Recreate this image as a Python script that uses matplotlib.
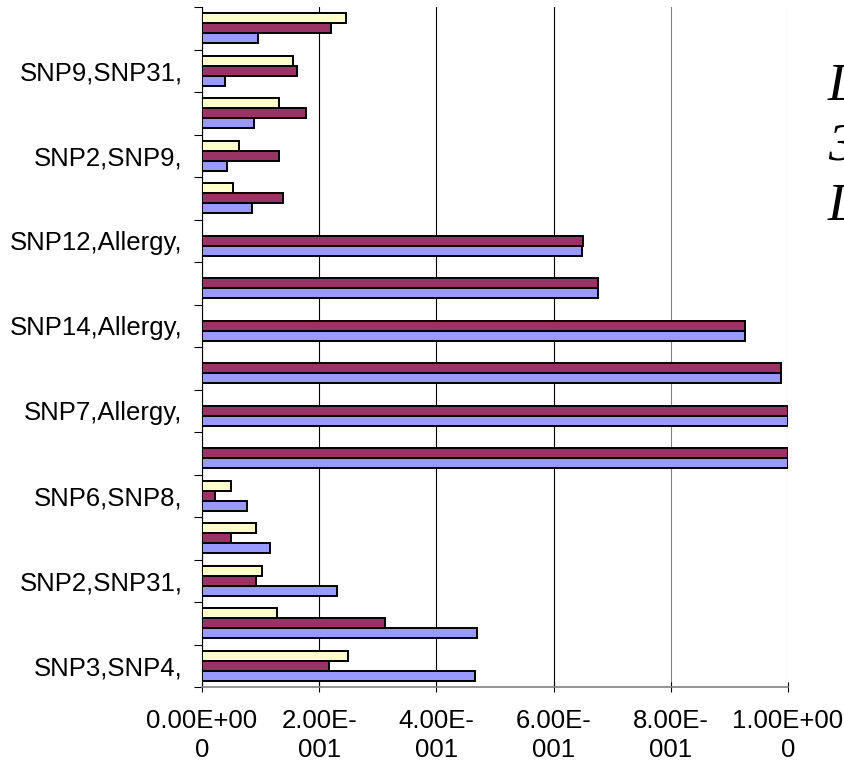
import matplotlib
matplotlib.use("Agg")
import matplotlib.pyplot as plt
import numpy as np

# Category labels from bottom to top; Excel skipped every other one
labels = ["SNP3,SNP4,", "", "SNP2,SNP31,", "", "SNP6,SNP8,", "",
          "SNP7,Allergy,", "", "SNP14,Allergy,", "", "SNP12,Allergy,", "",
          "SNP2,SNP9,", "", "SNP9,SNP31,", ""]

blue_vals = [0.466, 0.469, 0.230, 0.1155, 0.076, 1.0, 1.0, 0.988,
             0.926, 0.676, 0.649, 0.086, 0.043, 0.089, 0.040, 0.0956]
maroon_vals = [0.217, 0.312, 0.092, 0.0495, 0.023, 1.0, 1.0, 0.988,
               0.926, 0.676, 0.650, 0.138, 0.132, 0.177, 0.162, 0.220]
yellow_vals = [0.250, 0.128, 0.102, 0.093, 0.0495, np.nan, np.nan, np.nan,
               np.nan, np.nan, np.nan, 0.053, 0.063, 0.132, 0.155, 0.246]

xticks = [0.0, 0.2, 0.4, 0.6, 0.8, 1.0]
xtick_labels = ["0.00E+00\n0", "2.00E-\n001", "4.00E-\n001",
                "6.00E-\n001", "8.00E-\n001", "1.00E+00\n0"]

side_text = ["L", "3", "L"]

plt.rcParams['font.family'] = ['Liberation Sans', 'DejaVu Sans']

fig = plt.figure(figsize=(8.45, 7.64), dpi=100)
ax = fig.add_axes([202 / 845, 1 - 687 / 764, 586 / 845, 680 / 764])

y = np.arange(len(labels))
h = 0.235
bar_kw = dict(height=h, edgecolor='black', linewidth=1.4, zorder=3)
ax.barh(y - h, blue_vals, color='#9999FF', **bar_kw)
ax.barh(y, maroon_vals, color='#993366', **bar_kw)
ax.barh(y + h, yellow_vals, color='#FFFFCC', **bar_kw)

ax.set_xlim(0, 1.0)
ax.set_ylim(-0.5, len(labels) - 0.5)

# x axis: crossing ticks, two-line scientific labels
ax.set_xticks(xticks)
ax.set_xticklabels(xtick_labels, fontsize=18.5, linespacing=1.3)
ax.tick_params(axis='x', direction='inout', length=7, width=0.8,
               pad=12, color='black')

# y axis: tick marks on category boundaries, labels at centres
ax.set_yticks(np.arange(len(labels) + 1) - 0.5)
ax.set_yticklabels([])
ax.set_yticks(y, minor=True)
ax.set_yticklabels(labels, minor=True, fontsize=18.5)
ax.tick_params(axis='y', which='major', direction='out', length=5.5,
               width=0.8, color='black')
ax.tick_params(axis='y', which='minor', length=0, pad=14)

ax.grid(axis='x', color='black', linewidth=0.8, zorder=0)
ax.set_axisbelow(True)
grid = ax.xaxis.get_gridlines()
grid[-2].set_color('#808080')
grid[-1].set_color('#808080')

ax.spines['top'].set_visible(False)
ax.spines['right'].set_visible(False)
ax.spines['left'].set_color('black')
ax.spines['left'].set_linewidth(0.8)
ax.spines['bottom'].set_color('#808080')
ax.spines['bottom'].set_linewidth(1.2)

# legend text running off the right edge
for i, s in enumerate(side_text):
    fig.text(828 / 845, 1 - (100 + 60 * i) / 764, s, fontsize=38,
             family='Liberation Serif', style='italic', va='baseline',
             ha='left')

fig.savefig("out.png", dpi=100)
